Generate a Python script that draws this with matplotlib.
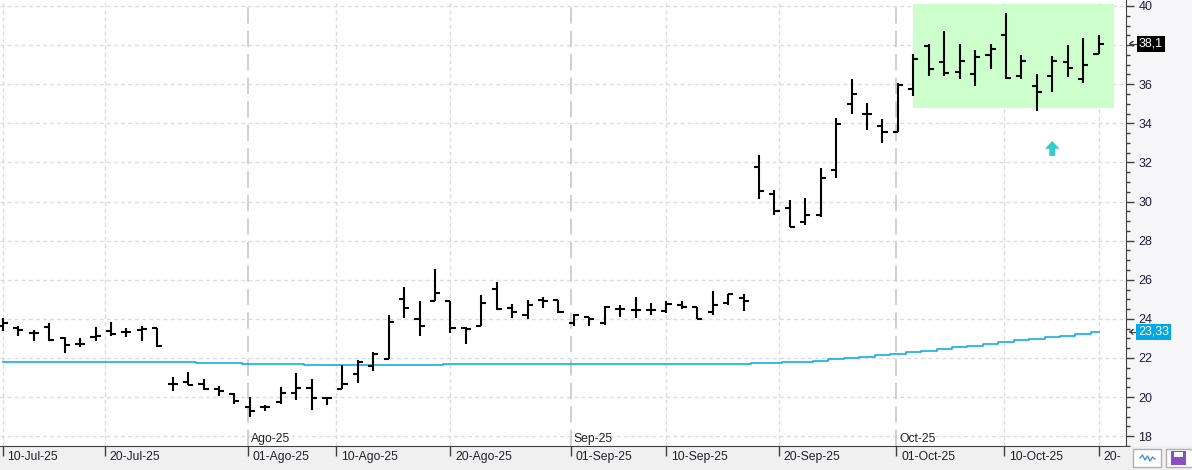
import numpy as np
import matplotlib
matplotlib.use("Agg")
import matplotlib.pyplot as plt
from matplotlib.patches import Rectangle, Polygon
from matplotlib.transforms import blended_transform_factory

plt.rcParams['font.family'] = ['Liberation Sans', 'DejaVu Sans']

# daily OHLC bars (one per trading day, index 0..71)
opens = [23.64, 23.52, 23.28, 23.57, 23.03, 22.69, 23.08, 23.37, 23.32, 23.42,
         23.54, 20.66, 20.78, 20.66, 20.40, 20.18, 19.47, 19.50, 19.73, 20.20,
         20.49, 19.95, 20.44, 21.20, 21.59, 21.93, 25.01, 23.99, 24.89, 24.89,
         23.54, 23.62, 25.52, 24.55, 24.18, 24.98, 24.94, 23.79, 24.08, 23.79,
         24.50, 24.43, 24.47, 24.38, 24.72, 24.60, 24.35, 24.81, 25.06, 31.75,
         30.36, 29.67, 28.96, 29.30, 31.62, 34.97, 34.50, 33.87, 33.53, 35.73,
         37.97, 37.14, 36.63, 36.53, 37.49, 38.53, 36.41, 35.90, 36.41, 37.14,
         36.27, 37.56]
highs = [24.04, 23.65, 23.42, 23.79, 23.08, 23.03, 23.59, 23.84, 23.54, 23.62,
         23.54, 21.03, 21.30, 20.91, 20.57, 20.23, 20.01, 19.61, 20.52, 21.25,
         20.91, 20.01, 21.64, 21.88, 22.32, 24.21, 25.62, 24.93, 26.55, 24.89,
         23.57, 25.23, 25.88, 24.76, 24.98, 25.11, 24.98, 24.27, 24.10, 24.64,
         24.72, 25.11, 24.81, 24.89, 24.93, 24.60, 25.45, 25.28, 25.27, 32.38,
         30.60, 30.09, 30.19, 31.72, 34.26, 36.29, 35.02, 34.24, 36.04, 37.56,
         38.05, 38.70, 38.05, 37.76, 38.07, 39.66, 37.51, 36.54, 37.43, 38.02,
         38.36, 38.53]
lows = [23.38, 23.11, 22.86, 22.89, 22.23, 22.55, 22.86, 23.11, 23.06, 22.89,
        22.55, 20.32, 20.62, 20.35, 20.06, 19.67, 18.96, 19.30, 19.67, 19.84,
        19.35, 19.61, 20.40, 20.71, 21.34, 21.93, 24.05, 23.15, 24.89, 23.28,
        22.72, 23.62, 24.43, 24.05, 24.01, 24.55, 24.28, 23.62, 23.66, 23.71,
        24.10, 24.05, 24.21, 24.30, 24.52, 24.01, 24.21, 24.69, 24.42, 30.11,
        29.30, 28.70, 28.79, 29.19, 31.19, 34.46, 33.67, 32.99, 33.53, 35.39,
        36.41, 36.41, 36.29, 35.90, 36.80, 36.29, 36.27, 34.63, 35.60, 36.36,
        36.07, 37.56]
closes = [23.79, 23.45, 23.28, 22.91, 22.66, 22.69, 23.11, 23.23, 23.32, 23.49,
          22.60, 20.66, 20.62, 20.39, 20.32, 19.81, 19.30, 19.50, 20.23, 20.49,
          19.95, 19.95, 20.66, 21.81, 22.18, 23.84, 24.55, 23.62, 25.32, 23.54,
          23.49, 24.81, 24.50, 24.33, 24.72, 24.89, 24.33, 24.18, 23.99, 24.60,
          24.50, 24.47, 24.47, 24.77, 24.59, 24.01, 24.72, 25.28, 24.89, 30.53,
          29.52, 28.70, 29.33, 31.19, 33.94, 35.48, 34.46, 33.53, 35.94, 37.29,
          36.78, 36.58, 37.17, 37.39, 37.80, 36.32, 37.21, 35.61, 37.17, 36.83,
          36.97, 38.07]
# moving average (blue)
ma = [21.81, 21.81, 21.81, 21.81, 21.81, 21.81, 21.81, 21.81, 21.81, 21.81,
      21.81, 21.81, 21.81, 21.72, 21.72, 21.72, 21.67, 21.67, 21.67, 21.67,
      21.64, 21.64, 21.64, 21.64, 21.64, 21.64, 21.64, 21.64, 21.64, 21.69,
      21.69, 21.69, 21.69, 21.69, 21.69, 21.69, 21.69, 21.69, 21.69, 21.69,
      21.69, 21.69, 21.69, 21.69, 21.69, 21.69, 21.69, 21.69, 21.69, 21.74,
      21.74, 21.78, 21.82, 21.85, 21.93, 21.99, 22.07, 22.14, 22.22, 22.30,
      22.38, 22.46, 22.56, 22.63, 22.72, 22.82, 22.90, 22.98, 23.06, 23.15,
      23.25, 23.33]

date_pos = [0, 6.6, 15.9, 21.6, 29.0, 36.8, 43.0, 50.3, 57.9, 64.9, 71.0]
date_labels = ['10-Jul-25', '20-Jul-25', '01-Ago-25', '10-Ago-25', '20-Ago-25',
               '01-Sep-25', '10-Sep-25', '20-Sep-25', '01-Oct-25', '10-Oct-25',
               '20-Oct-25']
month_pos = [15.9, 36.8, 57.9]
month_labels = ['Ago-25', 'Sep-25', 'Oct-25']
price_ticks = list(range(18, 41, 2))

W, H = 1192, 470
fig = plt.figure(figsize=(W / 100, H / 100), dpi=100, facecolor='#f0f0f0')
fig.patches.append(Rectangle((1126 / W, 24 / H), 66 / W, 446 / H, transform=fig.transFigure,
                             facecolor='#f6f6f8', edgecolor='none', zorder=-1))
ax = fig.add_axes([0, 24 / H, 1126 / W, 446 / H])
ax.set_facecolor('white')

x = np.arange(len(closes))
ax.set_xlim(-0.19, 72.78)
ax.set_ylim(17.644, 40.305)

# grid
for y in price_ticks:
    ax.axhline(y, color='#dcdcdc', lw=1, ls=(0, (2.9, 2.2)), zorder=0)
for p in date_pos:
    if p not in month_pos:
        ax.axvline(p, color='#dcdcdc', lw=1, ls=(0, (2.9, 2.2)), zorder=0)
for p in month_pos:
    ax.axvline(p, color='#cbcbcb', lw=1.3, ls=(0, (9, 4)), zorder=0)

# highlighted range
ax.add_patch(Rectangle((59, 34.77), 13.0, 40.1 - 34.77, facecolor='#ccffcc',
                       edgecolor='none', zorder=1))

# moving average
ax.plot(x, ma, color='#12aee8', lw=1.2, drawstyle='steps-mid', zorder=2)

# OHLC bars
tw = 0.33
ax.vlines(x, lows, highs, color='black', lw=1.5, zorder=3)
ax.hlines(opens, x - tw, x, color='black', lw=1.5, zorder=3)
ax.hlines(closes, x, x + tw, color='black', lw=1.5, zorder=3)

# signal arrow (up)
ax_x, hw, sw = 68.0, 0.47, 0.19
ax.add_patch(Polygon([(ax_x - sw, 32.33), (ax_x + sw, 32.33), (ax_x + sw, 32.70),
                      (ax_x + hw, 32.70), (ax_x, 33.10), (ax_x - hw, 32.70),
                      (ax_x - sw, 32.70)], closed=True, facecolor='#33cccc',
                     edgecolor='none', zorder=4))

# axes styling
for s in ['top', 'left']:
    ax.spines[s].set_visible(False)
ax.spines['right'].set_color('#404040')
ax.spines['bottom'].set_color('#404040')
ax.yaxis.tick_right()
ax.set_yticks(price_ticks)
# the "38" label sits under the last-price box in the original
ax.set_yticklabels(['' if t == 38 else str(t) for t in price_ticks])
ax.set_yticks(np.arange(17.5, 40.31, 0.5), minor=True)
ax.tick_params(axis='y', which='major', direction='out', length=6, width=1,
               color='#404040', labelsize=9, labelcolor='#1c1c3c', pad=3)
ax.tick_params(axis='y', which='minor', direction='out', length=3, width=1, color='#404040')
ax.set_xticks(date_pos)
ax.set_xticklabels([])
ax.tick_params(axis='x', direction='out', length=7, width=1, color='#404040')

tb = blended_transform_factory(ax.transData, ax.transAxes)
for p, lab in zip(date_pos, date_labels):
    ax.text(p + 0.3, -0.012, lab, transform=tb, ha='left', va='top',
            fontsize=8.7, color='#202030', clip_on=False)
for p, lab in zip(month_pos, month_labels):
    ax.text(p + 0.2, 0.002, lab, transform=tb, ha='left', va='bottom',
            fontsize=8.7, color='#202030')

# last value labels on the price axis
tr = blended_transform_factory(ax.transAxes, ax.transData)
ax.text(1.0115, closes[-1], '38,1', transform=tr, ha='left', va='center', fontsize=9,
        color='white', bbox=dict(boxstyle='square,pad=0.15', fc='black', ec='none'),
        clip_on=False, zorder=5)
ax.text(1.0105, ma[-1], '23,33', transform=tr, ha='left', va='center', fontsize=9,
        color='white', bbox=dict(boxstyle='square,pad=0.15', fc='#00a8e8', ec='none'),
        clip_on=False, zorder=5)
# small pointer arrows next to the value labels
for v in [closes[-1], ma[-1]]:
    ax.plot([1.0035, 1.0085], [v, v], transform=tr, color='#404040', lw=0.8, clip_on=False)
    ax.plot([1.0035, 1.0062, 1.0035, 1.0062], [v, v + 0.12, v, v - 0.12], transform=tr,
            color='#404040', lw=0.8, clip_on=False)

# bottom-right toolbar area
fig.patches.append(Rectangle((1121 / W, 0), 71 / W, 23 / H, transform=fig.transFigure,
                             facecolor='#f0f0f0', edgecolor='none', zorder=5))
fig.patches.append(Rectangle((1133 / W, 3 / H), 28 / W, 18 / H, transform=fig.transFigure,
                             facecolor='white', edgecolor='#b0b0b0', lw=1, zorder=6))
fig.patches.append(Rectangle((1166 / W, 3 / H), 28 / W, 18 / H, transform=fig.transFigure,
                             facecolor='white', edgecolor='#b0b0b0', lw=1, zorder=6))
fig.patches.append(Rectangle((1171 / W, 5 / H), 15 / W, 14 / H, transform=fig.transFigure,
                             facecolor='#8a4fc0', edgecolor='none', zorder=7))
fig.patches.append(Rectangle((1174 / W, 13 / H), 9 / W, 5 / H, transform=fig.transFigure,
                             facecolor='white', edgecolor='none', zorder=8))
wx = np.linspace(1140, 1155, 7) / W
fig.lines.append(plt.Line2D(wx, np.array([12, 15, 10, 14, 9, 13, 11]) / H,
                            transform=fig.transFigure, color='#4a90d9', lw=1, zorder=7))

fig.savefig('out.png', dpi=100, facecolor=fig.get_facecolor())
